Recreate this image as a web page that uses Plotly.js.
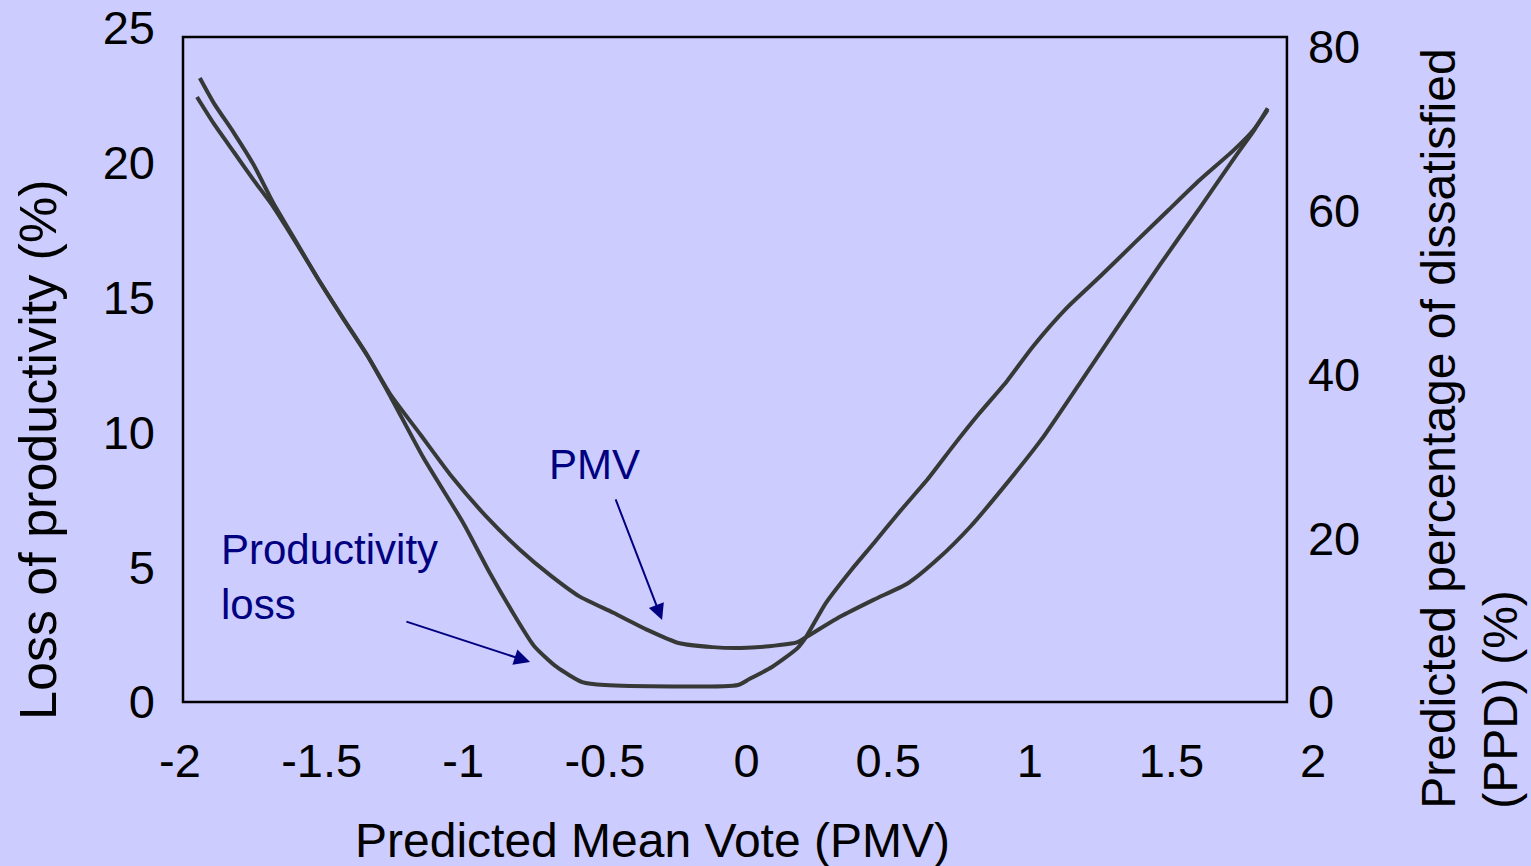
<!DOCTYPE html>
<html>
<head>
<meta charset="utf-8">
<script src="https://cdn.plot.ly/plotly-3.0.1.min.js"></script>
<style>
  html, body { margin: 0; padding: 0; background: #CCCCFF; }
  #chart { width: 1531px; height: 866px; }
</style>
</head>
<body>
<div id="chart"></div>
<script>
// ---- Data ----
// Productivity loss curve (left axis, %)
const prodPMV  = [-1.94, -1.88, -1.81, -1.74, -1.67, -1.59, -1.51, -1.42, -1.34, -1.26, -1.14, -1.00, -0.91, -0.82, -0.75, -0.67, -0.58, -0.50, -0.03, 0.01, 0.09, 0.18, 0.21, 0.28, 0.37, 0.45, 0.54, 0.64, 0.73, 0.82, 0.92, 1.01, 1.13, 1.25, 1.37, 1.49, 1.60, 1.72, 1.79, 1.84];
const prodLoss = [22.44, 21.44, 20.40, 19.36, 18.36, 17.03, 15.65, 14.17, 12.87, 11.39, 9.05, 6.64, 4.86, 3.23, 2.08, 1.30, 0.74, 0.63, 0.63, 0.85, 1.30, 2.00, 2.41, 3.67, 4.90, 5.90, 7.05, 8.27, 9.50, 10.68, 11.91, 13.17, 14.61, 15.80, 17.03, 18.25, 19.36, 20.47, 21.22, 21.96];

// PPD curve (right axis, %)
const ppdPMV = [-1.93, -1.88, -1.81, -1.74, -1.67, -1.59, -1.51, -1.42, -1.34, -1.26, -1.15, -1.04, -0.92, -0.80, -0.69, -0.59, -0.47, -0.35, -0.24, -0.12, -0.02, 0.08, 0.18, 0.21, 0.33, 0.45, 0.57, 0.68, 0.79, 0.90, 1.04, 1.18, 1.32, 1.46, 1.60, 1.73, 1.79, 1.84];
const ppdVal = [76.2, 73.1, 69.5, 65.6, 60.9, 56.2, 51.5, 46.6, 42.4, 37.7, 32.6, 27.5, 22.7, 18.6, 15.4, 12.9, 10.9, 8.8, 7.2, 6.7, 6.6, 6.8, 7.3, 7.9, 10.4, 12.5, 14.5, 17.6, 21.4, 25.9, 32.0, 39.1, 46.3, 53.4, 60.3, 66.8, 69.7, 72.5];

// Tick labels
const xTickVals = [-2, -1.5, -1, -0.5, 0, 0.5, 1, 1.5, 2];
const xTickText = ["-2", "-1.5", "-1", "-0.5", "0", "0.5", "1", "1.5", "2"];
const yTickVals = [0, 5, 10, 15, 20, 25];
const y2TickVals = [0, 20, 40, 60, 80];

// Text
const xTitle = "Predicted Mean Vote (PMV)";
const yTitle = "Loss of productivity (%)";
const y2Title = "Predicted percentage of dissatisfied<br>(PPD) (%)";
const labelPMV = "PMV";
const labelProd = "Productivity<br>loss";

// ---- Styling ----
const FONT = "Liberation Sans, Arial, Helvetica, sans-serif";
const BG = "#CCCCFF";
const NAVY = "#000080";
const CURVE = "#363936";

const traces = [
  {
    x: prodPMV, y: prodLoss, type: "scatter", mode: "lines",
    line: { color: CURVE, width: 4, shape: "spline", smoothing: 0.6 },
    yaxis: "y", hoverinfo: "skip", name: "Productivity loss"
  },
  {
    x: ppdPMV, y: ppdVal, type: "scatter", mode: "lines",
    line: { color: CURVE, width: 4, shape: "spline", smoothing: 0.6 },
    yaxis: "y2", hoverinfo: "skip", name: "PPD"
  }
];

const layout = {
  width: 1531, height: 866,
  paper_bgcolor: BG, plot_bgcolor: BG,
  showlegend: false,
  margin: { l: 180, r: 218, t: 28, b: 164, pad: 0 },
  font: { family: FONT, color: "#000000", size: 47 },
  xaxis: {
    range: [-2, 2], tickvals: xTickVals, ticktext: xTickText,
    showgrid: false, zeroline: false, showline: false, ticks: "",
    tickfont: { family: FONT, size: 47, color: "#000" },
    ticklabelstandoff: 27, automargin: false, fixedrange: true
  },
  yaxis: {
    range: [0, 25], tickvals: yTickVals,
    showgrid: false, zeroline: false, showline: false, ticks: "",
    tickfont: { family: FONT, size: 47, color: "#000" },
    ticklabelstandoff: 24, automargin: false, fixedrange: true
  },
  yaxis2: {
    range: [0, 82.3], tickvals: y2TickVals,
    overlaying: "y", side: "right", anchor: "free", position: 0.977,
    showgrid: false, zeroline: false, showline: false, ticks: "",
    tickfont: { family: FONT, size: 47, color: "#000" },
    ticklabelstandoff: 20, automargin: false, fixedrange: true
  },
  shapes: [
    { type: "rect", xref: "paper", yref: "paper", x0: 0.00265, x1: 0.977, y0: 0, y1: 0.9866,
      line: { color: "#000", width: 2.5 }, fillcolor: "rgba(0,0,0,0)", layer: "above" }
  ],
  annotations: [
    { text: xTitle, xref: "paper", yref: "paper", x: 0.4166, y: -0.205,
      xanchor: "center", yanchor: "middle", showarrow: false,
      font: { family: FONT, size: 48, color: "#000" } },
    { text: yTitle, xref: "paper", yref: "paper", x: -0.1253, y: 0.374, textangle: -90,
      xanchor: "center", yanchor: "middle", showarrow: false,
      font: { family: FONT, size: 52, color: "#000" } },
    { text: y2Title, xref: "paper", yref: "paper", x: 1.1375, y: 0.405, textangle: -90,
      xanchor: "center", yanchor: "middle", showarrow: false, align: "left",
      font: { family: FONT, size: 48, color: "#000" } },
    { text: labelPMV, xref: "paper", yref: "paper", x: 0.366, y: 0.353,
      xanchor: "center", yanchor: "middle", showarrow: false,
      font: { family: FONT, size: 42, color: NAVY } },
    { text: labelProd, xref: "paper", yref: "paper", x: 0.0344, y: 0.185,
      xanchor: "left", yanchor: "middle", showarrow: false, align: "left",
      font: { family: FONT, size: 42, color: NAVY } },
    { text: "", xref: "x", yref: "y", x: -0.298, y: 3.04, axref: "x", ayref: "y", ax: -0.464, ay: 7.57,
      showarrow: true, arrowhead: 2, arrowsize: 1.6, arrowwidth: 2, arrowcolor: NAVY, standoff: 0 },
    { text: "", xref: "x", yref: "y", x: -0.764, y: 1.48, axref: "x", ayref: "y", ax: -1.206, ay: 3.00,
      showarrow: true, arrowhead: 2, arrowsize: 1.6, arrowwidth: 2, arrowcolor: NAVY, standoff: 0 }
  ]
};

Plotly.newPlot("chart", traces, layout, { staticPlot: true, displayModeBar: false });
</script>
</body>
</html>
